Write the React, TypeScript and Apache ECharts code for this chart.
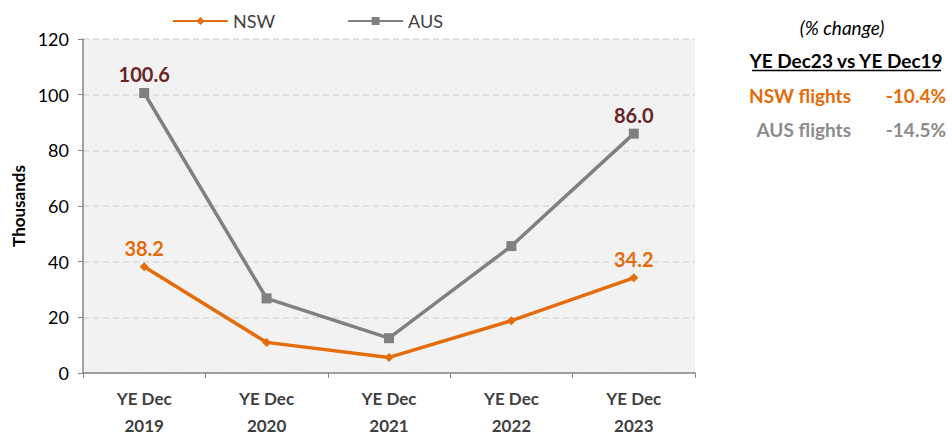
import React, { useEffect, useRef } from "react";
import * as echarts from "echarts";

const categories = ["YE Dec\n2019", "YE Dec\n2020", "YE Dec\n2021", "YE Dec\n2022", "YE Dec\n2023"];
const nswValues = [38.2, 11.0, 5.6, 18.8, 34.2];
const ausValues = [100.6, 26.8, 12.5, 45.6, 86.0];
const yTicks = { min: 0, max: 120, interval: 20 };
const sideTitle = "(% change)";
const sideHeading = "YE Dec23 vs YE Dec19";
const sideRows = [
  { name: "NSW flights", value: "-10.4%", color: "#E46C0A" },
  { name: "AUS flights", value: "-14.5%", color: "#8C8C8C" },
];

const FONT = "Lato, 'Open Sans', sans-serif";
const ORANGE = "#E46C0A";
const GREY = "#808080";
const DARKRED = "#6B2424";

export default function App() {
  const ref = useRef<HTMLDivElement>(null);
  useEffect(() => {
    if (!ref.current) return;
    const chart = echarts.init(ref.current, undefined, { renderer: "svg" });
    const endLabel = (color: string, n: number) => ({
      show: true,
      position: "top",
      distance: 4,
      color,
      fontFamily: FONT,
      fontWeight: "bold",
      fontSize: 20,
      formatter: (p: any) => (p.dataIndex === 0 || p.dataIndex === n - 1 ? p.value.toFixed(1) : ""),
    });
    chart.setOption({
      animation: false,
      textStyle: { fontFamily: FONT },
      legend: {
        top: 7,
        left: 167,
        itemGap: 72,
        itemWidth: 55,
        itemHeight: 10,
        textStyle: { fontSize: 18, color: "#404040", fontFamily: FONT, padding: [0, 0, 0, 0] },
        data: ["NSW", "AUS"],
      },
      grid: {
        left: 83,
        right: 257,
        top: 39,
        bottom: 64,
        show: true,
        backgroundColor: "#F2F2F2",
        borderWidth: 0,
        containLabel: false,
        outerBoundsMode: "none",
      },
      xAxis: {
        type: "category",
        data: categories,
        boundaryGap: true,
        axisLine: { lineStyle: { color: "#868686", width: 1.5 } },
        axisTick: { show: true, length: 5, lineStyle: { color: "#868686" } },
        axisLabel: {
          color: "#404040",
          fontWeight: "bold",
          fontSize: 17,
          lineHeight: 27,
          margin: 12,
          fontFamily: FONT,
        },
      },
      yAxis: {
        type: "value",
        min: yTicks.min,
        max: yTicks.max,
        interval: yTicks.interval,
        name: "Thousands",
        nameLocation: "middle",
        nameGap: 54,
        nameTextStyle: { fontWeight: "bold", fontSize: 17, color: "#000", fontFamily: FONT },
        axisLine: { show: true, lineStyle: { color: "#868686", width: 1.5 } },
        axisTick: { show: true, length: 5, lineStyle: { color: "#868686" } },
        axisLabel: { color: "#000", fontSize: 18, margin: 14, fontFamily: FONT },
        splitLine: { lineStyle: { color: "#D9D9D9", type: [6, 4], width: 1.5 } },
      },
      series: [
        {
          name: "NSW",
          type: "line",
          data: nswValues,
          color: ORANGE,
          symbol: "diamond",
          symbolSize: 9,
          lineStyle: { width: 3.5, color: ORANGE },
          itemStyle: { color: ORANGE },
          label: endLabel(ORANGE, nswValues.length),
          z: 3,
        },
        {
          name: "AUS",
          type: "line",
          data: ausValues,
          color: GREY,
          symbol: "rect",
          symbolSize: 10,
          lineStyle: { width: 3.5, color: GREY },
          itemStyle: { color: GREY },
          label: endLabel(DARKRED, ausValues.length),
          z: 2,
        },
      ],
      graphic: [
        {
          type: "text",
          x: 842,
          y: 27,
          style: {
            text: sideTitle,
            font: `italic 19px ${FONT}`,
            fill: "#000",
            align: "center",
            verticalAlign: "middle",
          },
        },
        {
          type: "text",
          x: 846,
          y: 60,
          style: {
            text: sideHeading,
            font: `bold 19px ${FONT}`,
            fill: "#000",
            align: "center",
            verticalAlign: "middle",
          },
        },
        {
          type: "line",
          shape: { x1: 752, y1: 70.5, x2: 941, y2: 70.5 },
          style: { stroke: "#000", lineWidth: 1.5 },
        },
        ...sideRows.flatMap((r, i) => [
          {
            type: "text",
            x: 851,
            y: 95 + i * 34,
            style: {
              text: r.name,
              font: `bold 19px ${FONT}`,
              fill: r.color,
              align: "right",
              verticalAlign: "middle",
            },
          },
          {
            type: "text",
            x: 946,
            y: 95 + i * 34,
            style: {
              text: r.value,
              font: `bold 19px ${FONT}`,
              fill: r.color,
              align: "right",
              verticalAlign: "middle",
            },
          },
        ]),
      ],
    });
    return () => chart.dispose();
  }, []);
  return (
    <div
      ref={ref}
      style={{ position: "absolute", left: 0, top: 0, width: 952, height: 437, background: "#fff" }}
    />
  );
}
